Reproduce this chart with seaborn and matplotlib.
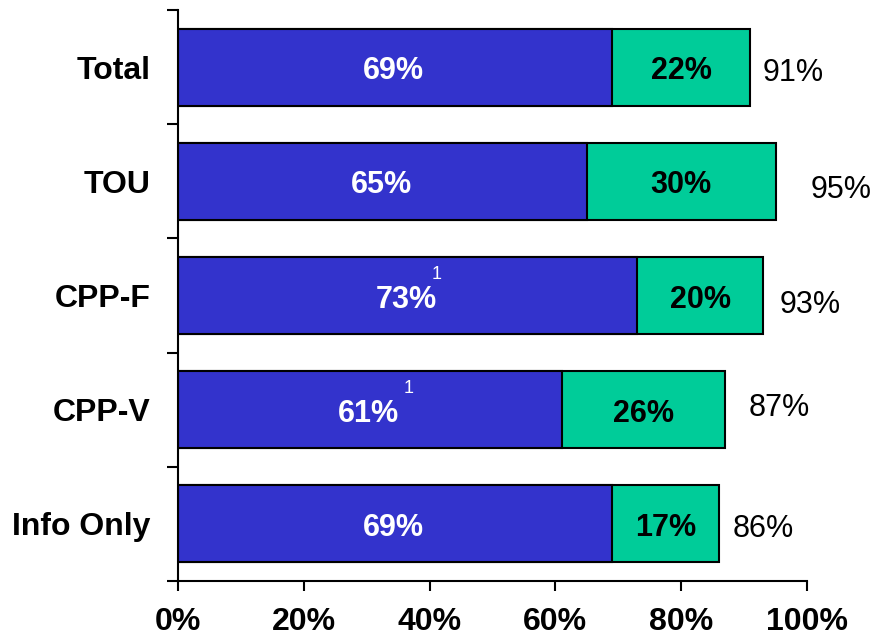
import numpy as np
import pandas as pd
import matplotlib
matplotlib.use("Agg")
import matplotlib.pyplot as plt
import seaborn as sns

# Data
categories = ["Total", "TOU", "CPP-F", "CPP-V", "Info Only"]
blue_pct = [69, 65, 73, 61, 69]
green_pct = [22, 30, 20, 26, 17]
total_pct = [91, 95, 93, 87, 86]
footnotes = ["", "", "1", "1", ""]
xtick_values = [0, 20, 40, 60, 80, 100]
xtick_labels = ["0%", "20%", "40%", "60%", "80%", "100%"]

# label nudges (points)
total_offsets = [(9, -4), (25, -6), (12, -7), (17, 1), (10, -4)]
note_offsets = [(0, 0), (0, 0), (21, 15), (28, 15), (0, 0)]

BLUE = "#3333CC"
GREEN = "#00CC99"

df = pd.DataFrame({
    "category": categories,
    "blue": blue_pct,
    "green": green_pct,
    "total": total_pct,
})

sns.set_style("white")
plt.rcParams["font.family"] = ["Liberation Sans", "DejaVu Sans"]

fig = plt.figure(figsize=(8.77, 6.4), dpi=100)
ax = fig.add_axes([178 / 877, 1 - 581 / 640, (807 - 178) / 877, (581 - 10) / 640])

# stacked: full bar in green, blue on top
sns.barplot(data=df, x="total", y="category", color=GREEN, saturation=1,
            edgecolor="black", linewidth=1.5, width=0.675, ax=ax)
sns.barplot(data=df, x="blue", y="category", color=BLUE, saturation=1,
            edgecolor="black", linewidth=1.5, width=0.675, ax=ax)

for i, row in df.iterrows():
    ax.annotate(f"{row['blue']}%", xy=(row["blue"] / 2, i), xytext=(-1, -3),
                textcoords="offset points", ha="center", va="center",
                color="white", fontsize=22, fontweight="bold")
    ax.annotate(f"{row['green']}%", xy=(row["blue"] + row["green"] / 2, i), xytext=(0, -3),
                textcoords="offset points", ha="center", va="center",
                color="black", fontsize=22, fontweight="bold")
    ax.annotate(f"{row['total']}%", xy=(row["total"], i), xytext=total_offsets[i],
                textcoords="offset points", ha="left", va="center",
                fontsize=22, color="black")
    if footnotes[i]:
        ax.annotate(footnotes[i], xy=(row["blue"] / 2, i), xytext=note_offsets[i],
                    textcoords="offset points", ha="center", va="center",
                    fontsize=13, color="white")

ax.set_xlim(0, 100)
ax.set_ylim(4.5, -0.5)
ax.set_xticks(xtick_values)
ax.set_xticklabels(xtick_labels, fontsize=23, fontweight="bold", color="black")
ax.set_yticks(range(len(categories)))
ax.set_yticklabels(categories, fontsize=23, fontweight="bold", color="black")
ax.set_yticks(np.arange(-0.5, len(categories), 1.0), minor=True)
ax.set_xlabel("")
ax.set_ylabel("")

ax.tick_params(axis="y", which="major", length=0, pad=20)
ax.tick_params(axis="y", which="minor", length=8, width=1.5, color="black", direction="out", left=True)
ax.tick_params(axis="x", which="major", length=7, width=1.5, color="black", direction="out", pad=12, bottom=True)

for s in ["top", "right"]:
    ax.spines[s].set_visible(False)
for s in ["left", "bottom"]:
    ax.spines[s].set_color("black")
    ax.spines[s].set_linewidth(1.5)

plt.savefig("out.png", dpi=100)
